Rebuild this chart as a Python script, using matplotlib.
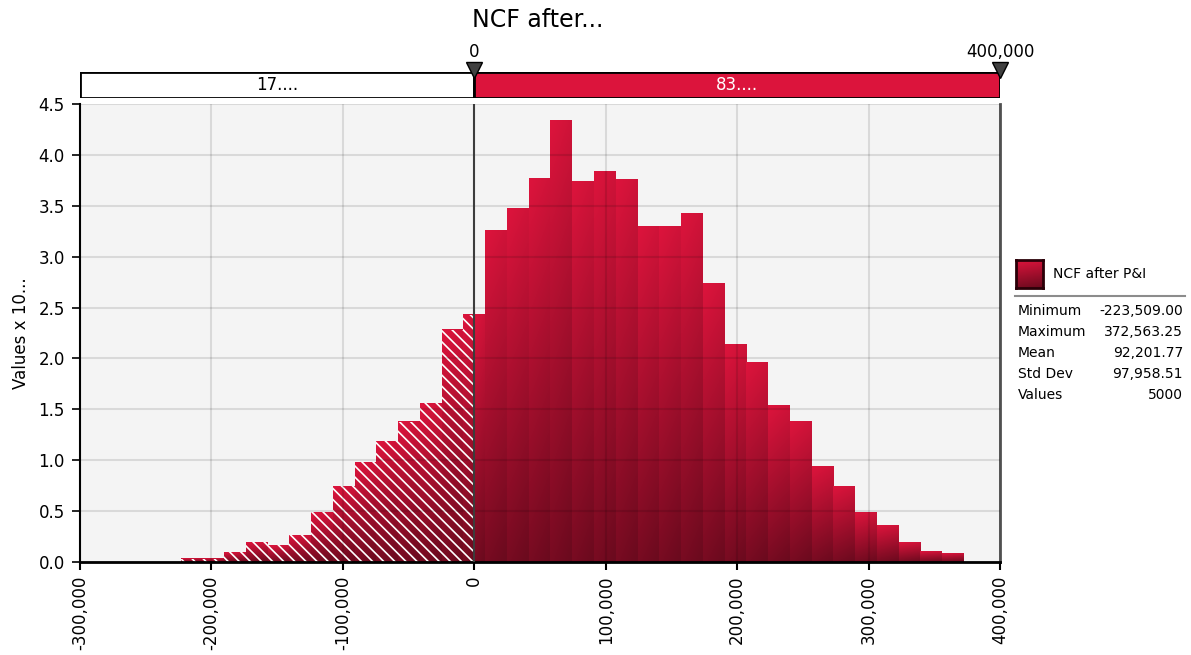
import matplotlib
matplotlib.use("Agg")
import matplotlib.pyplot as plt
import numpy as np
from matplotlib.colors import LinearSegmentedColormap
from matplotlib.patches import Rectangle
from matplotlib.ticker import FuncFormatter, MultipleLocator

# summary stats of the 5000 simulated values
stat_names = ["Minimum", "Maximum", "Mean", "Std Dev", "Values"]
stat_values = ["-223,509.00", "372,563.25", "92,201.77", "97,958.51", "5000"]
data_min = -223509.00
data_max = 372563.25
n_bins = 36

# bin heights (density, values x 10^-6)
heights = [0.03, 0.03, 0.095, 0.196, 0.167, 0.265, 0.49, 0.745, 0.98, 1.185,
           1.38, 1.56, 2.28, 2.43, 3.26, 3.47, 3.77, 4.34, 3.74, 3.84,
           3.76, 3.30, 3.30, 3.42, 2.74, 2.14, 1.96, 1.54, 1.385, 0.94,
           0.745, 0.49, 0.354, 0.196, 0.108, 0.079]

split_at = 0
band_right = 400000
band_labels = ["17....", "83...."]
x_ticks = [-300000, -200000, -100000, 0, 100000, 200000, 300000, 400000]

RED = "#DC143C"
DARK = "#6B0A1E"
cmap = LinearSegmentedColormap.from_list("ncf", [RED, DARK])

plt.rcParams["font.family"] = ["DejaVu Sans"]
plt.rcParams["hatch.linewidth"] = 1.2

W, H = 1191, 655
fig = plt.figure(figsize=(W / 100, H / 100), dpi=100)
ax = fig.add_axes([80 / W, 1 - 562 / H, 920 / W, 458 / H])
ax.set_facecolor("#F4F4F4")

edges = np.linspace(data_min, data_max, n_bins + 1)
grad = (np.linspace(0, 1, 64)[:, None] * 0.88
        + np.linspace(0, 1, 8)[None, :] * 0.12)


def draw_piece(x0, x1, h, hatched):
    ax.imshow(grad, extent=[x0, x1, 0, h], aspect="auto", cmap=cmap,
              vmin=0, vmax=1, interpolation="bilinear", zorder=1)
    if hatched:
        ax.add_patch(Rectangle((x0, 0), x1 - x0, h, facecolor="none",
                               edgecolor="white", hatch="\\\\\\",
                               linewidth=0, zorder=1.5))


for x0, x1, h in zip(edges[:-1], edges[1:], heights):
    if x1 <= split_at:
        draw_piece(x0, x1, h, True)
    elif x0 >= split_at:
        draw_piece(x0, x1, h, False)
    else:
        draw_piece(x0, split_at, h, True)
        draw_piece(split_at, x1, h, False)

ax.set_xlim(-300000, 400000)
ax.set_ylim(0, 4.5)
ax.set_xticks(x_ticks)
ax.xaxis.set_major_formatter(FuncFormatter(lambda v, p: f"{v:,.0f}"))
ax.yaxis.set_major_locator(MultipleLocator(0.5))
ax.yaxis.set_major_formatter(FuncFormatter(lambda v, p: f"{v:.1f}"))
ax.tick_params(axis="x", labelrotation=90, labelsize=12, length=6, width=1.5, pad=4)
ax.tick_params(axis="y", labelsize=12, length=6, width=1.2, pad=5)

ax.set_axisbelow(False)
ax.grid(True, color="black", alpha=0.11, linewidth=1.5)

ax.spines["top"].set_visible(False)
ax.spines["left"].set_linewidth(1.5)
ax.spines["bottom"].set_linewidth(2)
ax.spines["right"].set_color("#505050")
ax.spines["right"].set_linewidth(2)
ax.axvline(split_at, color="#3c3c3c", linewidth=1.5, zorder=4)

ax.set_ylabel("Values x 10...", fontsize=12, labelpad=6)

# percentage band above the plot
band = fig.add_axes([80 / W, 1 - 98 / H, 920 / W, 26 / H])
band.set_xlim(-300000, 400000)
band.set_ylim(0, 1)
band.axis("off")
band.add_patch(Rectangle((-300000, 0), split_at + 300000, 1, facecolor="white",
                         edgecolor="black", linewidth=2))
band.add_patch(Rectangle((split_at, 0), band_right - split_at, 1, facecolor=RED,
                         edgecolor="black", linewidth=2))
band.text((-300000 + split_at) / 2, 0.5, band_labels[0], ha="center", va="center",
          fontsize=12, color="black")
band.text((split_at + band_right) / 2, 0.5, band_labels[1], ha="center", va="center",
          fontsize=12, color="white")
band.plot([split_at, band_right], [1.06, 1.06], linestyle="none", marker="v",
          markersize=11, markerfacecolor="#404040", markeredgecolor="black",
          markeredgewidth=1, clip_on=False, zorder=5)
for xv in [split_at, band_right]:
    band.text(xv, 1.77, f"{xv:,.0f}", ha="center", va="center", fontsize=12,
              clip_on=False)

fig.text(538 / W, 1 - 20 / H, "NCF after...", ha="center", va="center", fontsize=17)

# legend and stats table
sw = fig.add_axes([1016 / W, 1 - 288 / H, 27 / W, 28 / H])
sw.imshow(grad, cmap=cmap, vmin=0, vmax=1, aspect="auto", interpolation="bilinear")
sw.set_xticks([])
sw.set_yticks([])
for s in sw.spines.values():
    s.set_linewidth(2)
    s.set_color("#2a0008")
fig.text(1053 / W, 1 - 274 / H, "NCF after P&I", ha="left", va="center", fontsize=10)
fig.add_artist(plt.Line2D([1015 / W, 1185 / W], [1 - 296 / H, 1 - 296 / H],
                          color="#8c8c8c", linewidth=1.5))
for i, (name, val) in enumerate(zip(stat_names, stat_values)):
    y = 1 - (311 + 21 * i) / H
    fig.text(1018 / W, y, name, ha="left", va="center", fontsize=10)
    fig.text(1183 / W, y, val, ha="right", va="center", fontsize=10)

fig.savefig("out.png", dpi=100)
